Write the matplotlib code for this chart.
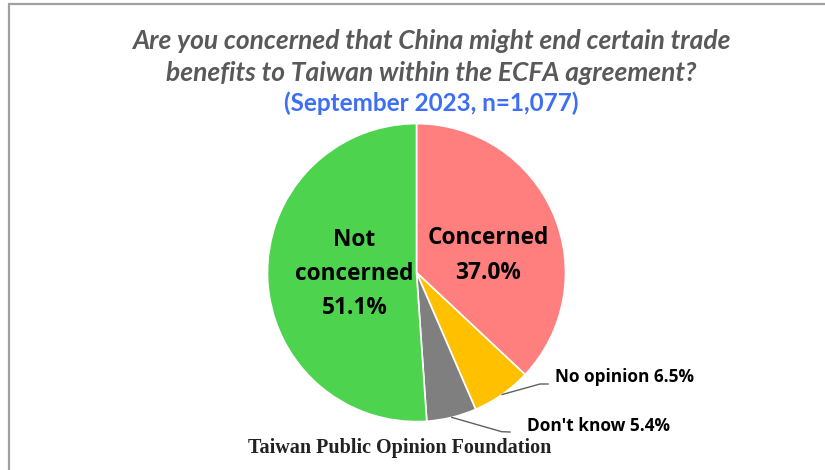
import matplotlib.pyplot as plt
import numpy as np
from matplotlib.patches import Rectangle

# survey answers, clockwise from the top
labels = ["Concerned", "No opinion", "Don't know", "Not concerned"]
values = [37.0, 6.5, 5.4, 51.1]
colors = ["#FF7F7F", "#FFC000", "#7F7F7F", "#4DD34D"]

title = "Are you concerned that China might end certain trade\nbenefits to Taiwan within the ECFA agreement?"
subtitle = "(September 2023, n=1,077)"
source = "Taiwan Public Opinion Foundation"

W, H = 825, 470
fig = plt.figure(figsize=(W / 100, H / 100), dpi=100)
ax = fig.add_axes([0, 0, 1, 1])

# frame (only top/left visible in the original crop)
ax.add_patch(Rectangle((9, -20), W + 20, H - 4 + 20, fill=False,
                       edgecolor="#A0A0A0", linewidth=1.6))

cx, cy, r = 416.5, H - 272.6, 149
wedges, _ = ax.pie(values, colors=colors, startangle=90, counterclock=False,
                   center=(cx, cy), radius=r, frame=True,
                   wedgeprops=dict(edgecolor="white", linewidth=1.2))
ax.set_xlim(0, W)
ax.set_ylim(0, H)
ax.set_aspect("equal")
ax.axis("off")

lab_font = dict(fontfamily="Open Sans", fontweight="bold", fontsize=16.3, color="black")

# big labels inside
ax.text(cx - 62, cy - 1, f"Not\nconcerned\n{values[3]:.1f}%", ha="center", va="center",
        linespacing=1.55, **lab_font)
ax.text(cx + 72, cy + 17, f"{labels[0]}\n{values[0]:.1f}%", ha="center", va="center",
        linespacing=1.6, **lab_font)

# small slices with leader lines
def edge_point(w):
    mid = np.deg2rad((w.theta1 + w.theta2) / 2)
    return cx + r * np.cos(mid), cy + r * np.sin(mid)

small_font = dict(fontfamily="Open Sans", fontweight="bold", fontsize=12.4, color="black")

x0, y0 = edge_point(wedges[1])
ax.plot([x0, 540, 548], [y0, H - 384, H - 384], color="#606060", lw=1)
ax.text(555, H - 377, f"{labels[1]} {values[1]:.1f}%", ha="left", va="center", **small_font)

x0, y0 = edge_point(wedges[2])
ax.plot([x0, 501.7, 510], [y0, H - 431.7, H - 432], color="#606060", lw=1)
ax.text(527, H - 426, f"{labels[2]} {values[2]:.1f}%", ha="left", va="center", **small_font)

fig.text(431 / W, 1 - 57 / H, title, ha="center", va="center", fontfamily="Lato",
         fontstyle="italic", fontweight="bold", fontsize=19, color="#595959",
         linespacing=1.38)
fig.text(431 / W, 1 - 103 / H, subtitle, ha="center", va="center", fontfamily="Lato",
         fontweight="bold", fontsize=17.5, color="#3D6EF5")
fig.text(400 / W, 1 - 448 / H, source, ha="center", va="center", fontfamily="Liberation Serif",
         fontweight="bold", fontsize=14.5, color="#222222")

fig.savefig("out.png", dpi=100)
